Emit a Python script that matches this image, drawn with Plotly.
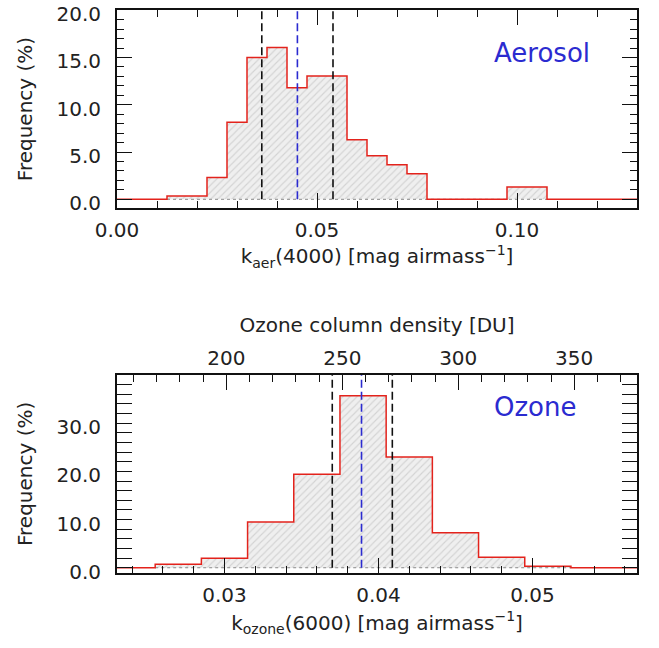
import plotly.graph_objects as go

# ---- aerosol extinction histogram (k_aer at 4000 A) ----
aer_bin_width = 0.005
aer_centers = [0.015, 0.020, 0.025, 0.030, 0.035, 0.040, 0.045, 0.050, 0.055,
               0.060, 0.065, 0.070, 0.075, 0.080, 0.085, 0.090, 0.095, 0.100, 0.105]
aer_freq = [0.35, 0.35, 2.3, 8.15, 15.0, 16.05, 11.8, 13.05, 13.05,
            6.3, 4.6, 3.65, 2.7, 0.0, 0.0, 0.0, 0.0, 1.3, 1.3]
aer_quartiles = [0.0362, 0.0540]
aer_median = 0.0451

# ---- ozone extinction histogram (k_ozone at 6000 A) ----
oz_bin_width = 0.003
oz_centers = [0.027, 0.030, 0.033, 0.036, 0.039, 0.042, 0.045, 0.048, 0.051]
oz_freq = [0.7, 1.95, 9.5, 19.4, 35.7, 23.0, 7.25, 2.2, 0.3]
oz_quartiles = [0.0370, 0.0409]
oz_median = 0.0389

# conversion from k_ozone(6000) to ozone column in Dobson units
DU_PER_K = 6640.0

aer_xrange = [0.0, 0.13]
aer_yrange = [-0.92, 20.02]
oz_xrange = [0.02302, 0.05679]
oz_yrange = [-1.03, 40.0]

FONT = "DejaVu Sans"
RED = "#e3231c"
BLUE = "#2b2bd0"
BLACK = "#111111"


def step_outline(centers, values, width, xmin, xmax):
    xs, ys = [xmin], [0.0]
    prev = 0.0
    for c, v in zip(centers, values):
        left, right = c - width / 2, c + width / 2
        xs += [left, left, right]
        ys += [prev, v, v]
        prev = v
    last = centers[-1] + width / 2
    xs += [last, xmax]
    ys += [0.0, 0.0]
    return xs, ys


fig = go.Figure()


def add_histogram(centers, values, width, xrange_, ytop, quartiles, median, xref, yref):
    xs, ys = step_outline(centers, values, width, xrange_[0], xrange_[1])
    # hatched area under the histogram
    fig.add_trace(go.Scatter(
        x=xs, y=ys, mode="lines", line=dict(width=0, color="rgba(0,0,0,0)"),
        fill="tozeroy", fillcolor="#efefef",
        fillpattern=dict(shape="/", fgcolor="#b8b8b8", bgcolor="#efefef",
                         size=5, solidity=0.22),
        xaxis=xref, yaxis=yref, showlegend=False, hoverinfo="skip"))
    # grey zero line
    fig.add_trace(go.Scatter(
        x=[centers[0] - width / 2, centers[-1] + width / 2], y=[0, 0],
        mode="lines", line=dict(color="#8a8a8a", width=1, dash="dot"),
        xaxis=xref, yaxis=yref, showlegend=False, hoverinfo="skip"))
    # red histogram outline
    fig.add_trace(go.Scatter(
        x=xs, y=ys, mode="lines", line=dict(color=RED, width=1.5),
        xaxis=xref, yaxis=yref, showlegend=False, hoverinfo="skip"))
    # quartiles (black) and median (blue)
    for q in quartiles:
        fig.add_trace(go.Scatter(
            x=[q, q], y=[0, ytop], mode="lines",
            line=dict(color=BLACK, width=1.6, dash="8px,4px"),
            xaxis=xref, yaxis=yref, showlegend=False, hoverinfo="skip"))
    fig.add_trace(go.Scatter(
        x=[median, median], y=[0, ytop], mode="lines",
        line=dict(color=BLUE, width=1.6, dash="8px,4px"),
        xaxis=xref, yaxis=yref, showlegend=False, hoverinfo="skip"))


add_histogram(aer_centers, aer_freq, aer_bin_width, aer_xrange, aer_yrange[1],
              aer_quartiles, aer_median, "x", "y")
add_histogram(oz_centers, oz_freq, oz_bin_width, oz_xrange, oz_yrange[1],
              oz_quartiles, oz_median, "x2", "y2")

# invisible trace so the Dobson-unit axis is drawn
fig.add_trace(go.Scatter(
    x=[oz_xrange[0] * DU_PER_K, oz_xrange[1] * DU_PER_K], y=[0, 0],
    mode="lines", line=dict(width=0, color="rgba(0,0,0,0)"),
    xaxis="x3", yaxis="y2", showlegend=False, hoverinfo="skip"))

tickfont = dict(family=FONT, size=20, color="#222222")
titlefont = dict(family=FONT, size=20, color="#222222")

common = dict(
    showline=True, linecolor=BLACK, linewidth=2,
    ticks="inside", ticklen=15, tickwidth=1.3, tickcolor=BLACK,
    tickfont=tickfont, showgrid=False, zeroline=False,
    automargin=False, ticklabeloverflow="allow",
)

x_dom = [117 / 659, 637 / 659]

fig.update_layout(
    width=659, height=648,
    margin=dict(l=0, r=0, t=0, b=0, autoexpand=False),
    paper_bgcolor="white", plot_bgcolor="white",
    xaxis=dict(
        **common, domain=x_dom, anchor="y", range=aer_xrange,
        dtick=0.05, tick0=0, tickformat=".2f", mirror="allticks",
        ticklabelstandoff=3,
        minor=dict(dtick=0.01, tick0=0, ticks="inside", ticklen=7,
                   tickwidth=1.3, tickcolor=BLACK),
        title=dict(text="k<sub>aer</sub>(4000) [mag airmass<sup>−1</sup>]",
                   font=titlefont, standoff=8),
    ),
    yaxis=dict(
        **common, domain=[1 - 208 / 648, 1 - 10 / 648], anchor="x",
        range=aer_yrange, tickvals=[0, 5, 10, 15, 20], tickformat=".1f",
        mirror="allticks", ticklabelstandoff=10, ticklabelshift=4,
        minor=dict(dtick=1, tick0=0, ticks="inside", ticklen=7,
                   tickwidth=1.3, tickcolor=BLACK),
        title=dict(text="Frequency (%)", font=titlefont, standoff=18),
    ),
    xaxis2=dict(
        **common, domain=x_dom, anchor="y2", range=oz_xrange,
        dtick=0.01, tick0=0, tickformat=".2f", mirror=False,
        ticklabelstandoff=3,
        minor=dict(dtick=0.002, tick0=0, ticks="inside", ticklen=7,
                   tickwidth=1.3, tickcolor=BLACK),
        title=dict(text="k<sub>ozone</sub>(6000) [mag airmass<sup>−1</sup>]",
                   font=titlefont, standoff=10),
    ),
    xaxis3=dict(
        **common, overlaying="x2", side="top", anchor="y2",
        range=[oz_xrange[0] * DU_PER_K, oz_xrange[1] * DU_PER_K],
        dtick=50, tick0=0, mirror=False, ticklabelstandoff=0,
        minor=dict(dtick=10, tick0=0, ticks="inside", ticklen=7,
                   tickwidth=1.3, tickcolor=BLACK),
        title=dict(text="Ozone column density [DU]", font=titlefont, standoff=8),
    ),
    yaxis2=dict(
        **common, domain=[1 - 572.7 / 648, 1 - 375 / 648], anchor="x2",
        range=oz_yrange, tickvals=[0, 10, 20, 30], tickformat=".1f",
        mirror="allticks", ticklabelstandoff=10, ticklabelshift=4,
        minor=dict(dtick=2, tick0=0, ticks="inside", ticklen=7,
                   tickwidth=1.3, tickcolor=BLACK),
        title=dict(text="Frequency (%)", font=titlefont, standoff=18),
    ),
    annotations=[
        dict(text="Aerosol", x=542 / 659, y=1 - 53 / 648, xref="paper", yref="paper",
             xanchor="center", yanchor="middle", showarrow=False,
             font=dict(family=FONT, size=26, color=BLUE)),
        dict(text="Ozone", x=535 / 659, y=1 - 407 / 648, xref="paper", yref="paper",
             xanchor="center", yanchor="middle", showarrow=False,
             font=dict(family=FONT, size=26, color=BLUE)),
    ],
)

fig.write_html("out.html")
